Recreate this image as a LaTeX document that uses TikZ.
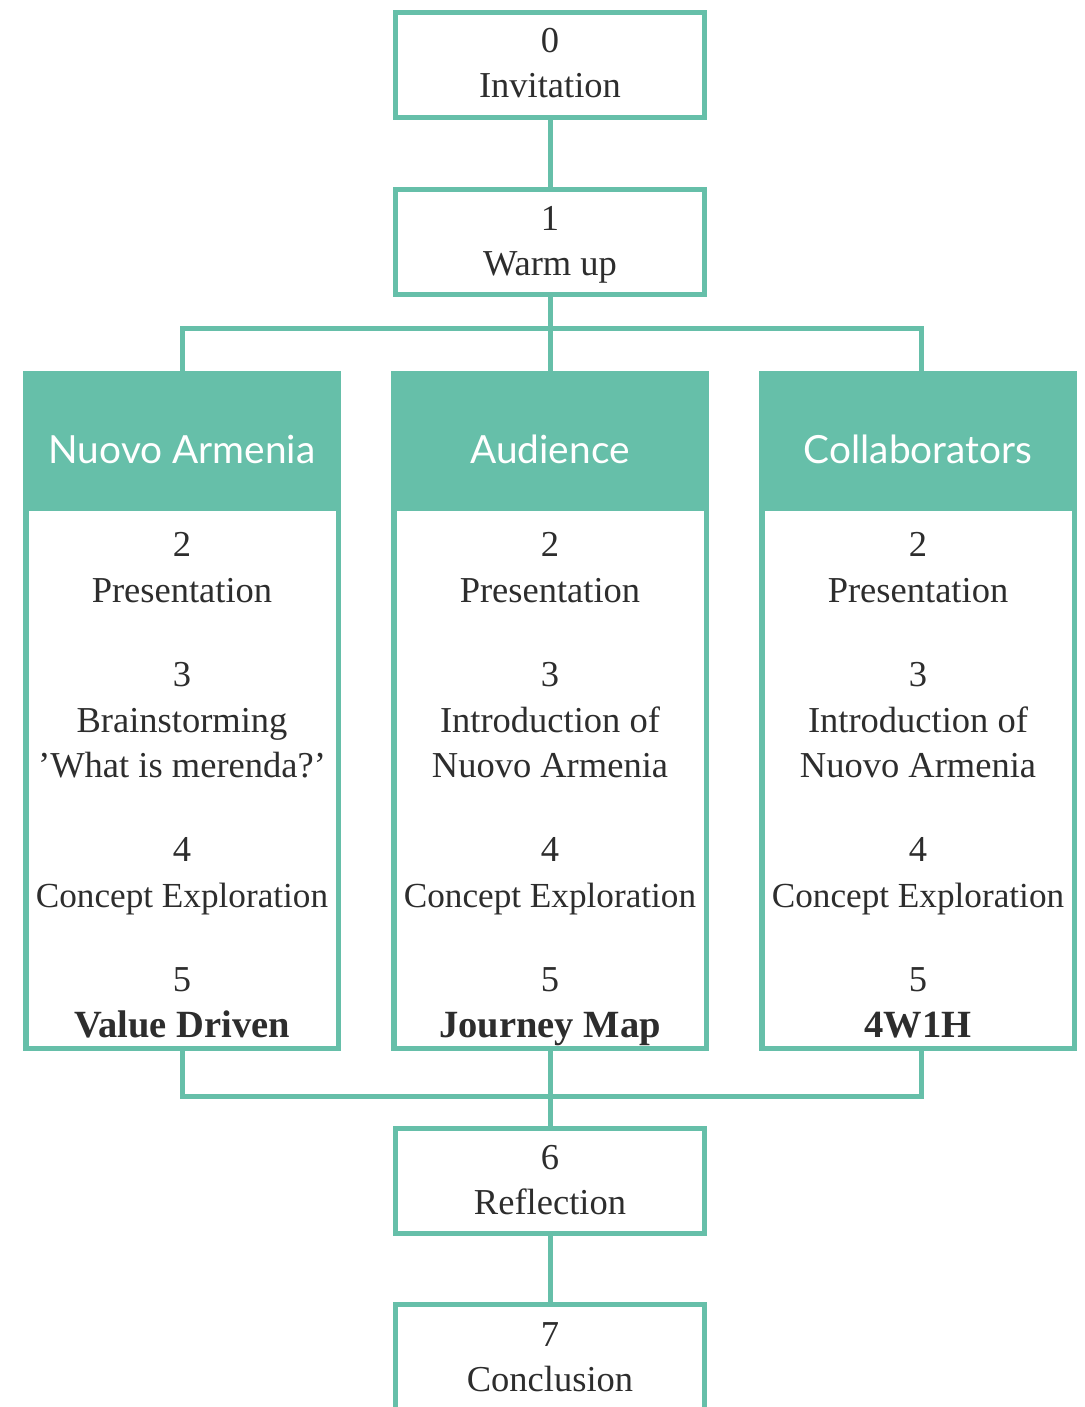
\documentclass[tikz,border=0pt]{standalone}
\usepackage{fontspec}
\newfontfamily\bodyfont{Liberation Serif}
\newfontfamily\hdrfont{Lato}
\definecolor{teal1}{RGB}{102,191,169}
\definecolor{ink}{RGB}{45,45,45}
\begin{document}
\begin{tikzpicture}[x=1pt,y=-1pt,
  stepbox/.style={draw=teal1, line width=5pt, minimum width=309pt, minimum height=105pt, inner sep=0pt},
  colbox/.style={draw=teal1, line width=5.5pt, minimum width=312.5pt, minimum height=674.5pt, inner sep=0pt},
  hdr/.style={fill=teal1, minimum width=318pt, minimum height=140pt, inner sep=0pt},
  link/.style={draw=teal1, line width=5pt},
  txt/.style={anchor=base, inner sep=0pt, text=ink, font=\bodyfont\fontsize{36.5}{42}\selectfont},
  ctxt/.style={txt, font=\bodyfont\fontsize{35.2}{42}\selectfont},
  btxt/.style={txt, font=\bodyfont\fontsize{38.5}{44}\selectfont\bfseries},
  htxt/.style={anchor=base, inner sep=0pt, text=white, font=\hdrfont\fontsize{38.8}{46}\selectfont}]
\path[use as bounding box, fill=white] (0,0) rectangle (1084,1407);

% step boxes
\node[stepbox] (b0) at (550,65) {};
\node[stepbox] (b1) at (550,242) {};
\node[stepbox] (b6) at (550,1181) {};
\node[stepbox] (b7) at (550,1357) {};

% column boxes
\node[colbox] (col1) at (182,711) {};
\node[colbox] (col2) at (550,711) {};
\node[colbox] (col3) at (918,711) {};
\node[hdr] (hdr1) at (182,441) {};
\node[hdr] (hdr2) at (550,441) {};
\node[hdr] (hdr3) at (918,441) {};

% connectors
\draw[link] (b0) -- (b1);
\path (b1.south) ++(0,31) coordinate (hubT);
\draw[link] (b1.south) -- (hubT) -- (hdr2.north);
\draw[link] (hdr1.north) |- (hubT) -| ([xshift=3pt]hdr3.north);
\path (b6.north) ++(0,-30) coordinate (hubB);
\draw[link] (col1.south) |- (hubB) -| ([xshift=3pt]col3.south);
\draw[link] (col2.south) -- (b6.north);
\draw[link] (b6) -- (b7);

% step texts
\node[txt] (t0a) at (550,53) {0};
\node[txt] (t0b) at (550,98) {Invitation};
\node[txt] (t1a) at (550,230) {1};
\node[txt] (t1b) at (550,275) {Warm up};
\node[txt] (t6a) at (550,1169) {6};
\node[txt] (t6b) at (550,1214) {Reflection};
\node[txt] (t7a) at (550,1346) {7};
\node[txt] (t7b) at (550,1391) {Conclusion};

% headers
\node[htxt] (h1) at (182,463) {Nuovo Armenia};
\node[htxt] (h2) at (550,463) {Audience};
\node[htxt] (h3) at (918,463) {Collaborators};

% column 1
\node[txt] (a1) at (182,556) {2};
\node[txt] (a2) at (182,602) {Presentation};
\node[txt] (a3) at (182,686) {3};
\node[txt] (a4) at (182,732) {Brainstorming};
\node[txt] (a5) at (182,777) {’What is merenda?’};
\node[txt] (a6) at (182,861) {4};
\node[ctxt] (a7) at (182,907) {Concept Exploration};
\node[txt] (a8) at (182,991) {5};
\node[btxt] (a9) at (182,1037) {Value Driven};

% column 2
\node[txt] (m1) at (550,556) {2};
\node[txt] (m2) at (550,602) {Presentation};
\node[txt] (m3) at (550,686) {3};
\node[txt] (m4) at (550,732) {Introduction of};
\node[txt] (m5) at (550,777) {Nuovo Armenia};
\node[txt] (m6) at (550,861) {4};
\node[ctxt] (m7) at (550,907) {Concept Exploration};
\node[txt] (m8) at (550,991) {5};
\node[btxt] (m9) at (550,1037) {Journey Map};

% column 3
\node[txt] (r1) at (918,556) {2};
\node[txt] (r2) at (918,602) {Presentation};
\node[txt] (r3) at (918,686) {3};
\node[txt] (r4) at (918,732) {Introduction of};
\node[txt] (r5) at (918,777) {Nuovo Armenia};
\node[txt] (r6) at (918,861) {4};
\node[ctxt] (r7) at (918,907) {Concept Exploration};
\node[txt] (r8) at (918,991) {5};
\node[btxt] (r9) at (918,1037) {4W1H};
\end{tikzpicture}
\end{document}
